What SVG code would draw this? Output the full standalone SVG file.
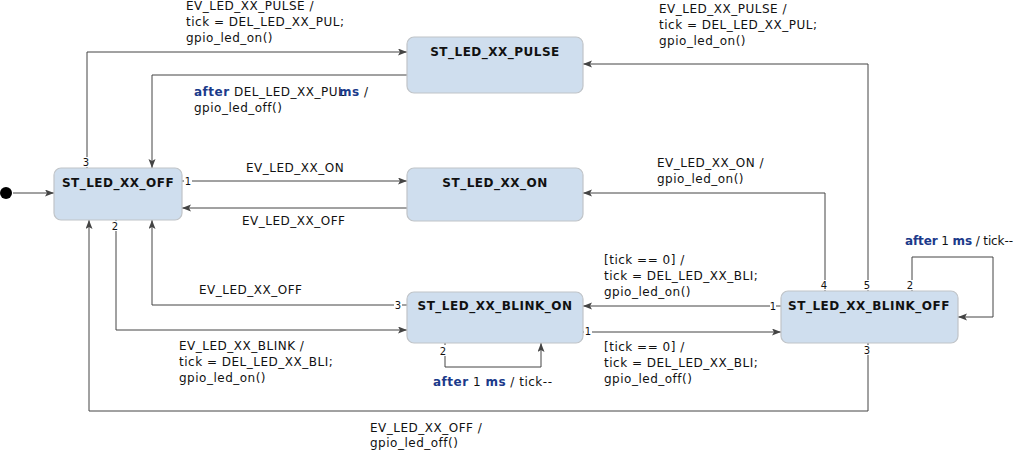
<svg xmlns="http://www.w3.org/2000/svg" width="1016" height="450" viewBox="0 0 1016 450">
<defs>
<marker id="arr" markerUnits="userSpaceOnUse" markerWidth="10" markerHeight="8" refX="9" refY="3.5" orient="auto">
<path d="M0,0 L9,3.5 L0,7 L2,3.5 z" fill="#444"/>
</marker>
<style>
.node rect{fill:#cfdeee;stroke:#c0c4c8;stroke-width:1.2}
.node text{font-family:"DejaVu Sans",Verdana,sans-serif;font-weight:bold;font-size:12px;letter-spacing:0.5px;fill:#111;text-anchor:middle}
.conn path{fill:none;stroke:#444;stroke-width:1;marker-end:url(#arr)}
.lbl{font-family:"DejaVu Sans",Verdana,sans-serif;font-size:12px;letter-spacing:0.5px;fill:#111}
.kw{font-weight:bold;fill:#1b3a8a}
.port rect{fill:#fff}
.port text{font-family:"DejaVu Sans",Verdana,sans-serif;font-size:10px;fill:#111;text-anchor:middle}
</style>
</defs>
<rect width="1016" height="450" fill="#fff"/>

<g id="initial">
<circle cx="6" cy="193" r="6" fill="#000"/>
</g>

<g id="connectors" class="conn">
<path d="M13,193 H54"/>
<path d="M87,168 V52 H407"/>
<path d="M407,75 H152 V168"/>
<path d="M182,181 H407"/>
<path d="M407,208 H182"/>
<path d="M825,291 V193 H583"/>
<path d="M868,291 V64 H583"/>
<path d="M912,291 V257 H993 V317 H958"/>
<path d="M781,306 H583"/>
<path d="M583,332 H781"/>
<path d="M445,343 V367 H541 V343"/>
<path d="M407,305 H152 V220"/>
<path d="M116,220 V330 H407"/>
<path d="M868,343 V411 H89 V220"/>
</g>

<g id="ST_LED_XX_OFF" class="node">
<rect x="54" y="168" width="128" height="52" rx="7"/>
<text x="118" y="187">ST_LED_XX_OFF</text>
</g>
<g id="ST_LED_XX_PULSE" class="node">
<rect x="407" y="37" width="176" height="56" rx="7"/>
<text x="495" y="56">ST_LED_XX_PULSE</text>
</g>
<g id="ST_LED_XX_ON" class="node">
<rect x="407" y="168" width="176" height="53" rx="7"/>
<text x="495" y="187">ST_LED_XX_ON</text>
</g>
<g id="ST_LED_XX_BLINK_ON" class="node">
<rect x="407" y="292" width="176" height="51" rx="7"/>
<text x="495" y="310">ST_LED_XX_BLINK_ON</text>
</g>
<g id="ST_LED_XX_BLINK_OFF" class="node">
<rect x="781" y="291" width="177" height="52" rx="7"/>
<text x="869" y="310">ST_LED_XX_BLINK_OFF</text>
</g>

<g id="ports" class="port">
<rect x="82" y="157" width="9" height="10"/><text x="86" y="166">3</text>
<rect x="184" y="176" width="8" height="10"/><text x="188" y="185">1</text>
<rect x="111" y="221" width="9" height="10"/><text x="115" y="230">2</text>
<rect x="394" y="300" width="8" height="10"/><text x="398" y="309">3</text>
<rect x="584" y="326" width="8" height="10"/><text x="588" y="335">1</text>
<rect x="439" y="345" width="9" height="11"/><text x="443" y="355">2</text>
<rect x="770" y="301" width="6" height="10"/><text x="773" y="310">1</text>
<rect x="820" y="280" width="9" height="10"/><text x="824" y="289">4</text>
<rect x="863" y="280" width="9" height="10"/><text x="867" y="289">5</text>
<rect x="906" y="280" width="9" height="10"/><text x="910" y="289">2</text>
<rect x="863" y="345" width="9" height="10"/><text x="867" y="354">3</text>
</g>

<g id="labels" class="lbl">
<text x="186" y="10">EV_LED_XX_PULSE /</text>
<text x="186" y="26">tick = DEL_LED_XX_PUL;</text>
<text x="186" y="42">gpio_led_on()</text>

<text y="96"><tspan x="194" class="kw">after</tspan><tspan> DEL_LED_XX_PUL</tspan><tspan x="339" class="kw">ms</tspan><tspan> /</tspan></text>
<text x="194" y="112">gpio_led_off()</text>

<text x="246" y="172">EV_LED_XX_ON</text>
<text x="242" y="225">EV_LED_XX_OFF</text>

<text x="657" y="167">EV_LED_XX_ON /</text>
<text x="657" y="183">gpio_led_on()</text>

<text x="659" y="13">EV_LED_XX_PULSE /</text>
<text x="659" y="29">tick = DEL_LED_XX_PUL;</text>
<text x="659" y="45">gpio_led_on()</text>

<text x="905" y="245" style="letter-spacing:0" textLength="108" lengthAdjust="spacing"><tspan class="kw">after</tspan> 1 <tspan class="kw">ms</tspan> / tick--</text>

<text x="604" y="264">[tick == 0] /</text>
<text x="604" y="280">tick = DEL_LED_XX_BLI;</text>
<text x="604" y="296">gpio_led_on()</text>

<text x="604" y="351">[tick == 0] /</text>
<text x="604" y="367">tick = DEL_LED_XX_BLI;</text>
<text x="604" y="383">gpio_led_off()</text>

<text x="433" y="386"><tspan class="kw">after</tspan> 1 <tspan class="kw">ms</tspan> / tick--</text>

<text x="199" y="294">EV_LED_XX_OFF</text>

<text x="179" y="350">EV_LED_XX_BLINK /</text>
<text x="179" y="366">tick = DEL_LED_XX_BLI;</text>
<text x="179" y="382">gpio_led_on()</text>

<text x="370" y="432">EV_LED_XX_OFF /</text>
<text x="370" y="447">gpio_led_off()</text>
</g>
</svg>
